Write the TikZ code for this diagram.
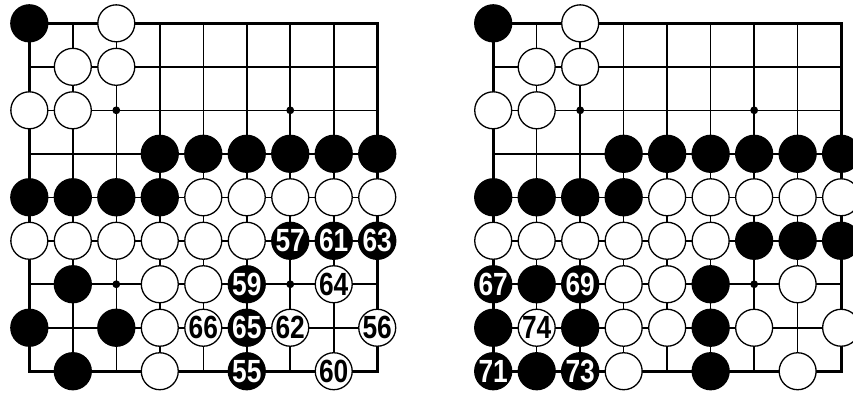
\documentclass[tikz,border=0pt]{standalone}
\usepackage{fontspec}
\usepackage{graphicx}
\newfontfamily\stonefont{Liberation Sans}
\newcommand{\mv}[1]{\scalebox{0.82}[1]{#1}}

\begin{document}
\begin{tikzpicture}[
x=1cm, y=-1cm,
gridline/.style={line width=1pt},
edgeline/.style={line width=2pt},
stone/.style={circle, draw=black, line width=0.85pt, minimum size=0.85cm, inner sep=0pt,
  font=\stonefont\bfseries\fontsize{21}{21}\selectfont},
bstone/.style={stone, fill=black, text=white},
wstone/.style={stone, fill=white, text=black} ]

\path[use as bounding box, clip] (0.326,0.464) rectangle (19.94,9.52);

% two boards, same opening position
\foreach \b/\dx in {L/0, R/10.667} {
\begin{scope}[xshift=\dx cm]
\foreach \i in {2,...,8} {
  \draw[gridline] (\i,1) -- (\i,9);
  \draw[gridline] (1,\i) -- (9,\i);
}
\draw[edgeline] (1,1) rectangle (9,9);
\foreach \p in {(3,3),(7,3),(3,7),(7,7)}
  \fill \p circle (0.09);

\foreach \c/\r in {1/1, 4/4, 5/4, 6/4, 7/4, 8/4, 9/4, 1/5, 2/5, 3/5, 4/5, 2/7, 1/8, 3/8, 2/9}
  \node[bstone] (\b-\c-\r) at (\c,\r) {};
\foreach \c/\r in {3/1, 2/2, 3/2, 1/3, 2/3, 5/5, 6/5, 7/5, 8/5, 9/5,
                   1/6, 2/6, 3/6, 4/6, 5/6, 6/6, 4/7, 5/7, 4/8, 4/9}
  \node[wstone] (\b-\c-\r) at (\c,\r) {};
\end{scope}
}

% left board: moves 55--66
\foreach \c/\r/\n in {6/9/55, 7/6/57, 6/7/59, 8/6/61, 9/6/63, 6/8/65}
  \node[bstone] (m\n) at (\c,\r) {\mv{\n}};
\foreach \c/\r/\n in {9/8/56, 8/9/60, 7/8/62, 8/7/64, 5/8/66}
  \node[wstone] (m\n) at (\c,\r) {\mv{\n}};

% right board: moves 67--74
\begin{scope}[xshift=10.667cm]
\foreach \c/\r in {7/6, 8/6, 9/6, 6/7, 6/8, 6/9}
  \node[bstone] (R-\c-\r) at (\c,\r) {};
\foreach \c/\r in {8/7, 5/8, 7/8, 9/8, 8/9}
  \node[wstone] (R-\c-\r) at (\c,\r) {};
\foreach \c/\r/\n in {1/7/67, 3/7/69, 1/9/71, 3/9/73}
  \node[bstone] (m\n) at (\c,\r) {\mv{\n}};
\node[wstone] (m74) at (2,8) {\mv{74}};
\end{scope}

\end{tikzpicture}
\end{document}
